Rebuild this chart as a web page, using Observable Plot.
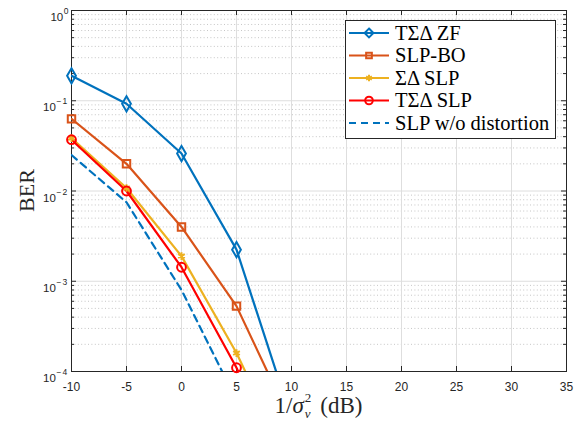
<!DOCTYPE html>
<html><head><meta charset="utf-8">
<script src="https://cdn.jsdelivr.net/npm/d3@7"></script>
<script src="https://cdn.jsdelivr.net/npm/@observablehq/plot@0.6"></script>
<style>
body{margin:0;background:#fff}
#wrap{position:relative;width:579px;height:423px}
#legend{position:absolute;left:345px;top:20px}
</style></head><body><div id="wrap"></div>
<script>
// ---- data ----
const snr = [-10, -5, 0, 5, 10];
const seriesNames = ["TΣΔ ZF", "SLP-BO", "ΣΔ SLP", "TΣΔ SLP", "SLP w/o distortion"];
const berZF = [0.189, 0.0925, 0.026, 0.00224, 3e-5];
const berBO = [0.063, 0.020, 0.0040, 5.3e-4, 2.7e-5];
const berSD = [0.0385, 0.0108, 0.0019, 1.6e-4, 8.5e-6];
const berTSD = [0.037, 0.0100, 0.00143, 1.1e-4, 5e-6];
const berNoDist = [0.025, 0.0075, 8.0e-4, 4.8e-5, 2e-6];
const xTicks = [-10, -5, 0, 5, 10, 15, 20, 25, 30, 35];
const yTicks = [1e-4, 1e-3, 1e-2, 1e-1, 1];
const yMinor = [];
for (let k = -4; k < 0; k++) for (let m = 2; m <= 9; m++) yMinor.push(m * Math.pow(10, k));

// ---- styles ----
const styles = [
  {color: "#0072BD", symbol: "diamond", r: 4.6, dash: null},
  {color: "#D95319", symbol: "square", r: 4.2, dash: null},
  {color: "#EDB120", symbol: "asterisk", r: 3.6, dash: null},
  {color: "#FF0000", symbol: "circle", r: 4.4, dash: null},
  {color: "#0072BD", symbol: null, r: 0, dash: "7,5"}
];
const allSeries = [berZF, berBO, berSD, berTSD, berNoDist];
const rows = [];
allSeries.forEach((vals, i) => vals.forEach((v, j) => rows.push({x: snr[j], y: v, s: seriesNames[i], i})));

const W = 579, H = 423, mL = 71, mR = 13, mT = 10, mB = 52;
const pw = W - mL - mR, ph = H - mT - mB;
const ink = "#262626";

const marks = [
  Plot.ruleY(yMinor, {y: d => d, stroke: "#b8b8b8", strokeWidth: 0.8, strokeDasharray: "1,2.4"}),
  Plot.ruleX(xTicks, {x: d => d, stroke: "#dedede", strokeWidth: 1}),
  Plot.ruleY(yTicks, {y: d => d, stroke: "#dedede", strokeWidth: 1}),
  // inward ticks
  Plot.ruleX(xTicks, {x: d => d, stroke: ink, strokeWidth: 1, insetTop: ph - 5}),
  Plot.ruleX(xTicks, {x: d => d, stroke: ink, strokeWidth: 1, insetBottom: ph - 5}),
  Plot.ruleY(yTicks, {y: d => d, stroke: ink, strokeWidth: 1, insetRight: pw - 5}),
  Plot.ruleY(yTicks, {y: d => d, stroke: ink, strokeWidth: 1, insetLeft: pw - 5}),
  Plot.ruleY(yMinor, {y: d => d, stroke: ink, strokeWidth: 1, insetRight: pw - 3}),
  Plot.ruleY(yMinor, {y: d => d, stroke: ink, strokeWidth: 1, insetLeft: pw - 3}),
  Plot.frame({stroke: ink, strokeWidth: 1})
];
styles.forEach((st, i) => {
  const d = rows.filter(r => r.i === i);
  marks.push(Plot.line(d, {x: "x", y: "y", stroke: st.color, strokeWidth: 2.2, clip: true,
    strokeDasharray: st.dash || undefined}));
});
styles.forEach((st, i) => {
  if (!st.symbol) return;
  const d = rows.filter(r => r.i === i && r.y >= 1e-4);
  marks.push(Plot.dot(d, {x: "x", y: "y", symbol: () => st.symbol, r: st.r, stroke: st.color, strokeWidth: 2, fill: "none"}));
});
marks.push(
  Plot.axisX({ticks: xTicks, tickSize: 0, tickPadding: 11, fill: ink, label: null,
    tickFormat: d => String(d)}),
  Plot.axisY({ticks: yTicks, tickSize: 0, tickPadding: 3, fill: ink, label: null,
    tickFormat: d => String(Math.round(Math.log10(d)))})
);

const chart = Plot.plot({
  width: W, height: H,
  marginLeft: mL, marginRight: mR, marginTop: mT, marginBottom: mB,
  style: {fontFamily: "'Liberation Sans', Arial, sans-serif", background: "#fff", overflow: "visible"},
  x: {domain: [-10, 35]},
  y: {type: "log", domain: [1e-4, 1]},
  symbol: {type: "identity"},
  marks
});

const NS = "http://www.w3.org/2000/svg";
chart.querySelectorAll('[aria-label="x-axis tick label"] text').forEach(t => {
  t.setAttribute("font-size", "12"); t.style.fontSize = "12px";
});
// superscript exponents on y tick labels
chart.querySelectorAll('[aria-label="y-axis tick label"] text').forEach(t => {
  const e = t.textContent;
  t.textContent = "10";
  t.setAttribute("font-size", "11.5"); t.style.fontSize = "11.5px";
  t.setAttribute("dy", "0.6em");
  const ts = document.createElementNS(NS, "tspan");
  ts.setAttribute("dy", "-7");
  ts.setAttribute("dx", "0.5");
  ts.style.fontSize = "8.5px";
  ts.style.letterSpacing = e.startsWith("-") ? "1.2px" : "0px";
  ts.textContent = e.replace("-", "−");
  t.appendChild(ts);
});

// axis labels
function addText(parent, attrs) {
  const t = document.createElementNS(NS, "text");
  for (const k in attrs) t.setAttribute(k, attrs[k]);
  parent.appendChild(t);
  return t;
}
function addSpan(t, txt, attrs) {
  const s = document.createElementNS(NS, "tspan");
  for (const k in (attrs || {})) s.setAttribute(k, attrs[k]);
  s.textContent = txt;
  t.appendChild(s);
}
const serif = "'Liberation Serif', 'Times New Roman', serif";
const yl = addText(chart, {transform: `translate(26,${mT + ph / 2}) rotate(-90)`, "text-anchor": "middle",
  "font-family": serif, "font-size": 22, fill: ink, dy: "0.35em"});
yl.textContent = "BER";
const xl = addText(chart, {x: mL + pw / 2, y: 413, "text-anchor": "middle", "font-family": serif, "font-size": 23, fill: ink});
addSpan(xl, "1/");
addSpan(xl, "σ", {"font-style": "italic"});
addSpan(xl, "2", {"font-size": 13, dy: -11, dx: 1});
addSpan(xl, "v", {"font-size": 13, "font-style": "italic", dx: -6.5, dy: 16});
addSpan(xl, "\u00a0(dB)", {dy: -5, dx: 4});

document.getElementById("wrap").appendChild(chart);

// legend
const lg = d3.select("#wrap").append("svg").attr("id", "legend").attr("width", 211).attr("height", 119);
lg.append("rect").attr("x", 0.5).attr("y", 0.5).attr("width", 210).attr("height", 118)
  .attr("fill", "#fff").attr("stroke", ink).attr("stroke-width", 1);
const symMap = {diamond: d3.symbolDiamond2, square: d3.symbolSquare2, asterisk: d3.symbolAsterisk, circle: d3.symbolCircle};
seriesNames.forEach((name, i) => {
  const st = styles[i];
  const y = 13 + i * 22.5;
  lg.append("line").attr("x1", 4).attr("x2", 44).attr("y1", y).attr("y2", y)
    .attr("stroke", st.color).attr("stroke-width", 2.2).attr("stroke-dasharray", st.dash);
  if (st.symbol) {
    lg.append("path").attr("transform", `translate(24,${y})`)
      .attr("d", d3.symbol(symMap[st.symbol], Math.PI * st.r * st.r * 0.75)())
      .attr("fill", "none").attr("stroke", st.color).attr("stroke-width", 2);
  }
  lg.append("text").attr("x", 50).attr("y", y).attr("dy", "0.34em")
    .attr("font-family", serif).attr("font-size", 20.5).attr("fill", "#000").text(name);
});
</script></body></html>
